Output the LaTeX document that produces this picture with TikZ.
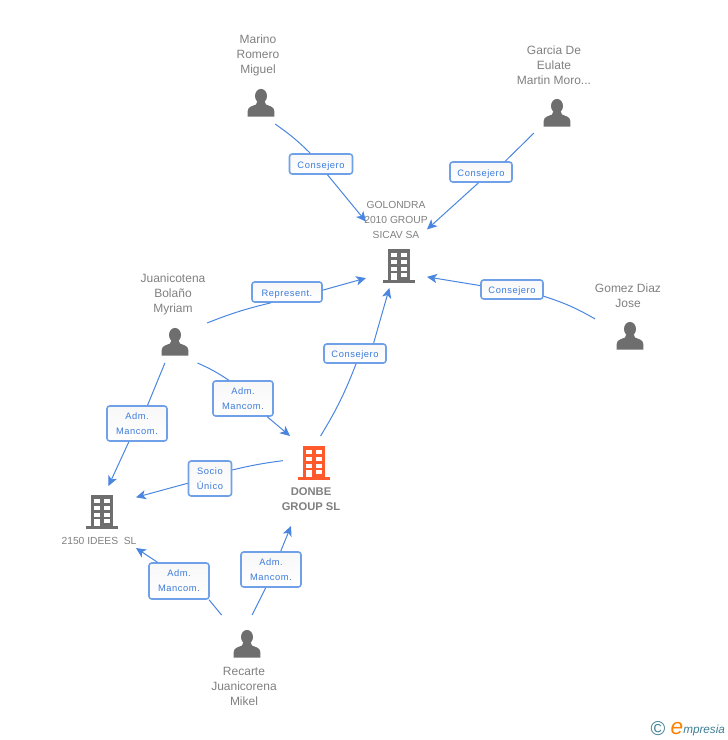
\documentclass[tikz,border=0pt]{standalone}
\usepackage{fontspec}
\setmainfont{Liberation Sans}
\usetikzlibrary{arrows.meta}
\definecolor{enlacecol}{HTML}{4A86E0}
\definecolor{bordecol}{HTML}{6FA0E8}
\definecolor{textocol}{HTML}{3C7BDC}
\definecolor{iconcol}{HTML}{6E6E6E}
\definecolor{rojocol}{HTML}{FF5A2B}
\definecolor{logocol}{HTML}{3F7F95}
\tikzset{enlace/.style={enlacecol, line width=0.75pt}}
\tikzset{flecha/.style={enlace, -{Stealth[length=7.5pt, width=7pt, inset=2pt]}}}
\tikzset{etiqueta/.style 2 args={draw=bordecol, line width=1.2pt, rounded corners=2pt, top color=white!97!black, bottom color=white, text=textocol, align=center, inner sep=0pt, minimum width=0.75pt*#1, minimum height=0.75pt*#2, font=\fontsize{7}{11.25}\selectfont\addfontfeature{LetterSpace=6}}}
\tikzset{unalinea/.style={text height=6.5pt, text depth=0.5pt}}
\tikzset{caja/.style 2 args={inner sep=0pt, outer sep=0pt, minimum width=0.75pt*#1, minimum height=0.75pt*#2}}
\tikzset{nombre/.style={text=black!50, align=center, inner sep=0pt, font=\fontsize{9}{11.25}\selectfont}}
\tikzset{empresa/.style={nombre, font=\fontsize{7.7}{11.25}\selectfont}}
\tikzset{pics/persona/.style={code={
\fill[iconcol] (0,-7) ellipse [x radius=4.5pt, y radius=5.3pt];
\fill[iconcol] (-13.3,13.5) -- (-13.3,8) .. controls (-13.3,3.5) and (-8,3) .. (-5,1.5) -- (-3.5,-2) -- (3.5,-2) -- (5,1.5) .. controls (8,3) and (13.3,3.5) .. (13.3,8) -- (13.3,13.5) -- cycle;
}}}
\tikzset{pics/edificio/.style={code={
\fill[#1] (-11,-17) rectangle (11,14);
\fill[#1] (-16,14) rectangle (16,17);
\foreach \wy in {-13.3,-6,0.7,6.7} {
\fill[white] (-7.7,\wy) rectangle +(5.4,4.2);
\fill[white] (2.3,\wy) rectangle +(5.4,4.2);
}
\fill[white] (-7.7,6.7) rectangle (-2.3,14);
}}}

\begin{document}
\begin{tikzpicture}[x=0.75pt, y=-0.75pt]
\useasboundingbox (0,0) rectangle (728,740);
\node[caja={47}{91}] (marino) at (258.5,78.5) {};
\node[caja={72}{90}] (garcia) at (554,88) {};
\node[caja={61}{90}] (golondra) at (396.5,243) {};
\node[caja={66}{70}] (gomez) at (628,316) {};
\node[caja={68}{92}] (juani) at (173,317) {};
\node[caja={56}{90}] (donbe) at (311,481) {};
\node[caja={74}{62}] (idees) at (99,517) {};
\node[caja={68}{92}] (recarte) at (244,661) {};
\node[nombre] (marinoT) at (258,55) {Marino\\Romero\\Miguel};
\node[nombre] (garciaT) at (554,65) {Garcia De\\Eulate\\Martin Moro...};
\node[empresa] (golondraT) at (396,220) {GOLONDRA\\2010 GROUP\\SICAV SA};
\node[nombre] (gomezT) at (628,295.5) {Gomez Diaz\\Jose};
\node[nombre] (juaniT) at (173,294) {Juanicotena\\Bolaño\\Myriam};
\node[nombre, font=\fontsize{8.4}{11.25}\selectfont\bfseries] (donbeT) at (311,499.5) {DONBE\\GROUP SL};
\node[empresa] (ideesT) at (99,541) {2150 IDEES\ \ SL};
\node[nombre] (recarteT) at (244,686) {Recarte\\Juanicorena\\Mikel};
\pic at (261,103) {persona};
\pic at (557,113) {persona};
\pic at (630,336) {persona};
\pic at (175,342) {persona};
\pic at (247,644) {persona};
\pic at (399,266) {edificio=iconcol};
\pic at (314,463) {edificio=rojocol};
\pic at (102,512) {edificio=iconcol};
\node[etiqueta={63}{20}, unalinea] (lblA) at (321,164) {Consejero};
\node[etiqueta={62}{20}, unalinea] (lblB) at (481,172) {Consejero};
\node[etiqueta={70}{20}, unalinea] (lblC) at (287,292) {Represent.};
\node[etiqueta={62}{19}, unalinea] (lblD) at (512,289.5) {Consejero};
\node[etiqueta={62}{19}, unalinea] (lblE) at (355,353.5) {Consejero};
\node[etiqueta={60}{35}] (lblF) at (243,398.5) {Adm.\\Mancom.};
\node[etiqueta={60}{35}] (lblG) at (137,423.5) {Adm.\\Mancom.};
\node[etiqueta={43}{35}] (lblH) at (210,478.5) {Socio\\Único};
\node[etiqueta={60}{36}] (lblI) at (179,581) {Adm.\\Mancom.};
\node[etiqueta={60}{35}] (lblJ) at (271,569.5) {Adm.\\Mancom.};
\draw[enlace] (marino.-70) to[bend left=5] (lblA.135);
\draw[flecha] (lblA.-59) -- (golondra.145.5);
\draw[enlace] (garcia.-114) -- (lblB.24.4);
\draw[flecha] (lblB.-103.5) -- (golondra.24.6);
\draw[enlace] (juani.-10) to[bend left=4] (lblC.-146);
\draw[flecha] (lblC.3.3) -- (golondra.-131);
\draw[enlace] (gomez.-175) to[bend right=6] (lblD.-12);
\draw[flecha] (lblD.173.5) -- (golondra.-48);
\draw[enlace] (donbe.78.7) to[bend right=5] (lblE.-84);
\draw[flecha] (lblE.29) -- (golondra.-99.5);
\draw[enlace] (juani.-62.4) to[bend left=5] (lblF.128.7);
\draw[flecha] (lblF.-37.3) -- (donbe.115);
\draw[enlace] (juani.-100) -- (lblG.60);
\draw[flecha] (lblG.-114.6) -- (idees.73.8);
\draw[enlace] (donbe.144.5) to[bend right=3] (lblH.21.6);
\draw[flecha] (lblH.-168.4) -- (idees.28.4);
\draw[enlace] (recarte.116.6) -- (lblI.-32.7);
\draw[flecha] (lblI.139.4) -- (idees.-40);
\draw[enlace] (recarte.80) -- (lblJ.-106);
\draw[flecha] (lblJ.62.8) -- (donbe.-114);
\node[text=logocol, inner sep=0pt, font=\fontsize{15}{15}\selectfont] (logoC) at (658,729) {\textcopyright};
\node[text=orange, inner sep=0pt, font=\fontsize{17}{17}\selectfont\itshape] (logoE) at (677,729) {e};
\node[text=logocol, inner sep=0pt, anchor=west, font=\fontsize{8.8}{10}\selectfont\itshape] (logoT) at (683,730) {mpresia};
\end{tikzpicture}
\end{document}
